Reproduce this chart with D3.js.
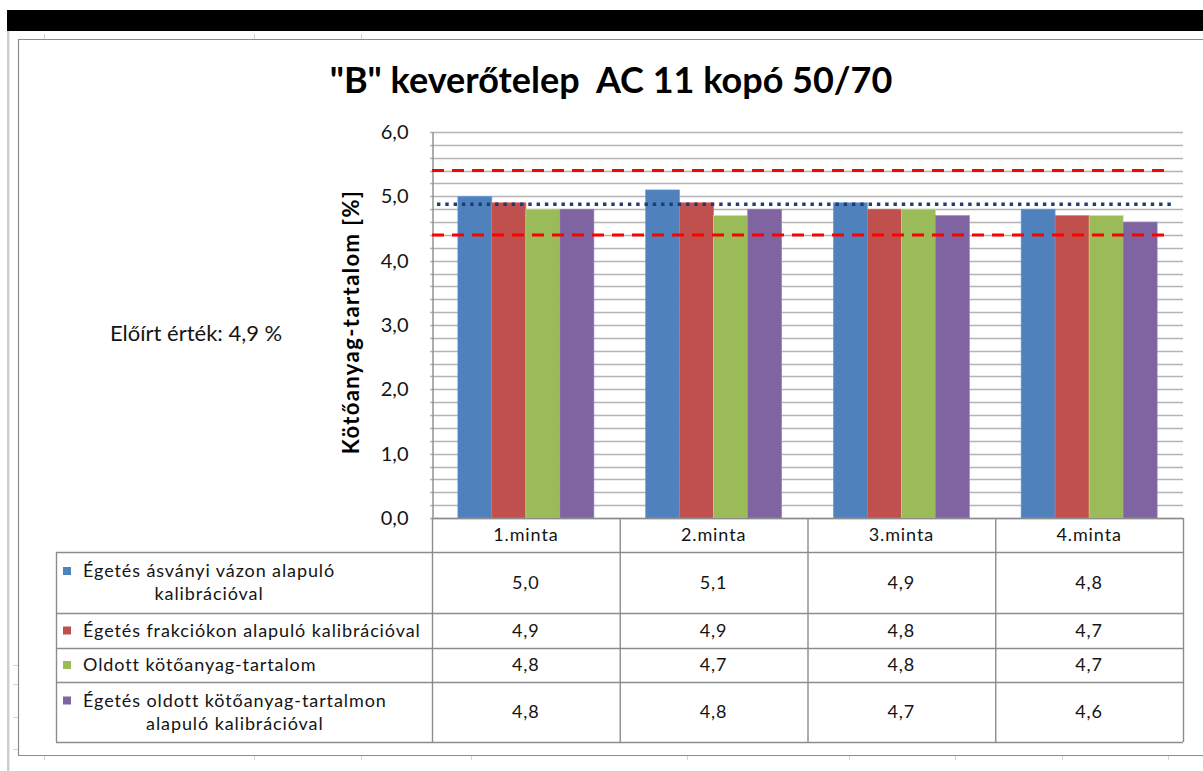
<!DOCTYPE html>
<html>
<head>
<meta charset="utf-8">
<script src="https://cdn.jsdelivr.net/npm/d3@7"></script>
<style>
  html, body { margin: 0; padding: 0; background: #fff; }
  svg { display: block; font-family: Lato, "Open Sans", sans-serif; }
</style>
</head>
<body>
<svg id="chart" width="1203" height="771"></svg>
<script>
// --- data -------------------------------------------------------------
const title = '"B" keverőtelep  AC 11 kopó 50/70';
const yAxisTitle = "Kötőanyag-tartalom [%]";
const noteText = "Előírt érték: 4,9 %";
const categories = ["1.minta", "2.minta", "3.minta", "4.minta"];
const seriesNames = [
  "Égetés ásványi vázon alapuló\nkalibrációval",
  "Égetés frakciókon alapuló kalibrációval",
  "Oldott kötőanyag-tartalom",
  "Égetés oldott kötőanyag-tartalmon\nalapuló kalibrációval"
];
const seriesColors = ["#4F81BD", "#C0504D", "#9BBB59", "#8064A2"];
const valuesAsvanyi = [5.0, 5.1, 4.9, 4.8];
const valuesFrakcio = [4.9, 4.9, 4.8, 4.7];
const valuesOldott = [4.8, 4.7, 4.8, 4.7];
const valuesOldottKalib = [4.8, 4.8, 4.7, 4.6];
const seriesValues = [valuesAsvanyi, valuesFrakcio, valuesOldott, valuesOldottKalib];
const yTicks = [0, 1, 2, 3, 4, 5, 6];
const targetValue = 4.9;        // prescribed binder content
const limitValues = [5.4, 4.4]; // tolerance limits

// --- layout -----------------------------------------------------------
const svg = d3.select("#chart");
const plot = { left: 432, right: 1183, top: 132, bottom: 518 };
const tableLeft = 56;
const rowHeights = [34, 61, 35, 34, 60];
const textColor = "#141414";
const tableFont = { size: 18, spacing: 0.9 };

const locale = d3.formatLocale({ decimal: ",", thousands: " ", grouping: [3], currency: ["", ""] });
const fmt = locale.format(".1f");

const y = d3.scaleLinear().domain([0, 6]).range([plot.bottom, plot.top]);
const x = d3.scaleBand().domain(categories).range([plot.left, plot.right]).padding(0);
const xs = d3.scaleBand().domain(d3.range(seriesNames.length)).range([0, x.bandwidth()])
  .paddingInner(0).paddingOuter(0.76);

// window frame around the chart
svg.append("rect").attr("x", 7).attr("y", 10).attr("width", 1196).attr("height", 21).attr("fill", "#000");
svg.append("rect").attr("x", 7).attr("y", 31).attr("width", 2.5).attr("height", 740).attr("fill", "#cfcfcf");
const frame = svg.append("g").attr("stroke", "#d4d4d4").attr("stroke-width", 1);
[44, 254, 361].forEach(px => frame.append("line").attr("x1", px + 0.5).attr("x2", px + 0.5).attr("y1", 34).attr("y2", 39));
[44, 254, 361, 471, 687, 849, 955, 1062, 1168].forEach(px =>
  frame.append("line").attr("x1", px + 0.5).attr("x2", px + 0.5).attr("y1", 756).attr("y2", 760));
[665, 684, 717, 749].forEach(py => frame.append("line").attr("x1", 13).attr("x2", 18).attr("y1", py + 0.5).attr("y2", py + 0.5));

// chart area border
svg.append("path")
  .attr("d", "M1203,39.5 H18.5 V755.5 H1203")
  .attr("fill", "none").attr("stroke", "#8c8c8c").attr("stroke-width", 1.2);

// title
svg.append("text")
  .attr("x", 611).attr("y", 93)
  .attr("text-anchor", "middle")
  .style("white-space", "pre")
  .attr("font-size", 36).attr("font-weight", 700).attr("fill", "#000")
  .text(title);

// gridlines every 0.2
const grid = svg.append("g");
grid.selectAll("line").data(d3.range(0, 31).map(i => i * 0.2))
  .join("line")
  .attr("x1", plot.left - 2).attr("x2", plot.right)
  .attr("y1", d => Math.round(y(d)) + 0.5).attr("y2", d => Math.round(y(d)) + 0.5)
  .attr("stroke", "#b4b4b4").attr("stroke-width", 1.4);

// y axis
const yAxis = svg.append("g")
  .attr("transform", `translate(${plot.left + 0.5},0)`)
  .call(d3.axisLeft(y).tickValues(yTicks).tickFormat(fmt).tickSize(0).tickPadding(24));
yAxis.select(".domain").attr("stroke", "#8c8c8c").attr("stroke-width", 1.4);
yAxis.selectAll("text").attr("font-size", 20).attr("fill", textColor).attr("font-family", "Lato, sans-serif");

// y axis title
svg.append("text")
  .attr("transform", `translate(359,${(plot.top + plot.bottom) / 2 - 3}) rotate(-90)`)
  .attr("text-anchor", "middle")
  .attr("font-size", 22).attr("font-weight", 700).attr("letter-spacing", 1.4).attr("fill", "#000")
  .text(yAxisTitle);

// note
svg.append("text")
  .attr("x", 110).attr("y", 341)
  .attr("font-size", 22).attr("fill", textColor)
  .text(noteText);

// bars
const bars = svg.append("g");
seriesValues.forEach((vals, si) => {
  bars.append("g").selectAll("rect").data(vals)
    .join("rect")
    .attr("x", (d, i) => x(categories[i]) + xs(si))
    .attr("y", d => y(d))
    .attr("width", xs.bandwidth())
    .attr("height", d => y(0) - y(d))
    .attr("fill", seriesColors[si])
    .attr("stroke", d3.color(seriesColors[si]).brighter(0.6))
    .attr("stroke-width", 0.6);
});

// tolerance limits (red dashed)
svg.append("g").selectAll("line").data(limitValues)
  .join("line")
  .attr("x1", plot.left).attr("x2", 1168)
  .attr("y1", d => y(d)).attr("y2", d => y(d))
  .attr("stroke", "#ff0000").attr("stroke-width", 3)
  .attr("stroke-dasharray", "12,8");

// prescribed value (dotted)
svg.append("line")
  .attr("x1", plot.left + 5).attr("x2", 1175)
  .attr("y1", y(targetValue) + 1.5).attr("y2", y(targetValue) + 1.5)
  .attr("stroke", "#1f3d73").attr("stroke-width", 3.4)
  .attr("stroke-dasharray", "3.4,4.9");

// data table
const tbl = svg.append("g");
const rowTops = [plot.bottom];
rowHeights.forEach(h => rowTops.push(rowTops[rowTops.length - 1] + h));
const tableBottom = rowTops[rowTops.length - 1];
const lineStyle = s => s.attr("stroke", "#8c8c8c").attr("stroke-width", 1.4).attr("fill", "none");
const tableText = s => s.attr("font-size", tableFont.size).attr("letter-spacing", tableFont.spacing).attr("fill", textColor);

// horizontal rules
rowTops.forEach((ty, i) => {
  tbl.append("line")
    .attr("x1", i === 0 ? plot.left : tableLeft).attr("x2", plot.right)
    .attr("y1", ty + 0.5).attr("y2", ty + 0.5).call(lineStyle);
});
// vertical rules
tbl.append("line").attr("x1", tableLeft + 0.5).attr("x2", tableLeft + 0.5)
  .attr("y1", rowTops[1]).attr("y2", tableBottom).call(lineStyle);
categories.concat([null]).forEach(c => {
  const vx = c === null ? plot.right : x(c);
  tbl.append("line").attr("x1", vx + 0.5).attr("x2", vx + 0.5)
    .attr("y1", rowTops[0]).attr("y2", tableBottom).call(lineStyle);
});

// category header
tbl.selectAll("text.cat").data(categories).join("text")
  .attr("class", "cat")
  .attr("x", d => x(d) + x.bandwidth() / 2)
  .attr("y", (rowTops[0] + rowTops[1]) / 2)
  .attr("dy", "0.36em")
  .attr("text-anchor", "middle")
  .call(tableText)
  .text(d => d);

// series rows
seriesNames.forEach((name, si) => {
  const top = rowTops[si + 1], bot = rowTops[si + 2], mid = (top + bot) / 2;
  const lines = name.split("\n");
  const lh = 23;
  const firstY = mid - (lines.length - 1) * lh / 2;
  tbl.append("rect")
    .attr("x", 63).attr("y", firstY - 4).attr("width", 8).attr("height", 8)
    .attr("fill", seriesColors[si]);
  const t1 = tbl.append("text")
    .attr("x", 83).attr("y", firstY).attr("dy", "0.36em")
    .call(tableText)
    .text(lines[0]);
  if (lines.length > 1) {
    const end = 83 + t1.node().getComputedTextLength();
    tbl.append("text")
      .attr("x", (63 + end) / 2 + 10).attr("y", firstY + lh).attr("dy", "0.36em")
      .attr("text-anchor", "middle")
      .call(tableText)
      .text(lines[1]);
  }
  tbl.append("g").selectAll("text").data(seriesValues[si]).join("text")
    .attr("x", (d, i) => x(categories[i]) + x.bandwidth() / 2)
    .attr("y", mid).attr("dy", "0.36em")
    .attr("text-anchor", "middle")
    .call(tableText)
    .text(d => fmt(d));
});
</script>
</body>
</html>
